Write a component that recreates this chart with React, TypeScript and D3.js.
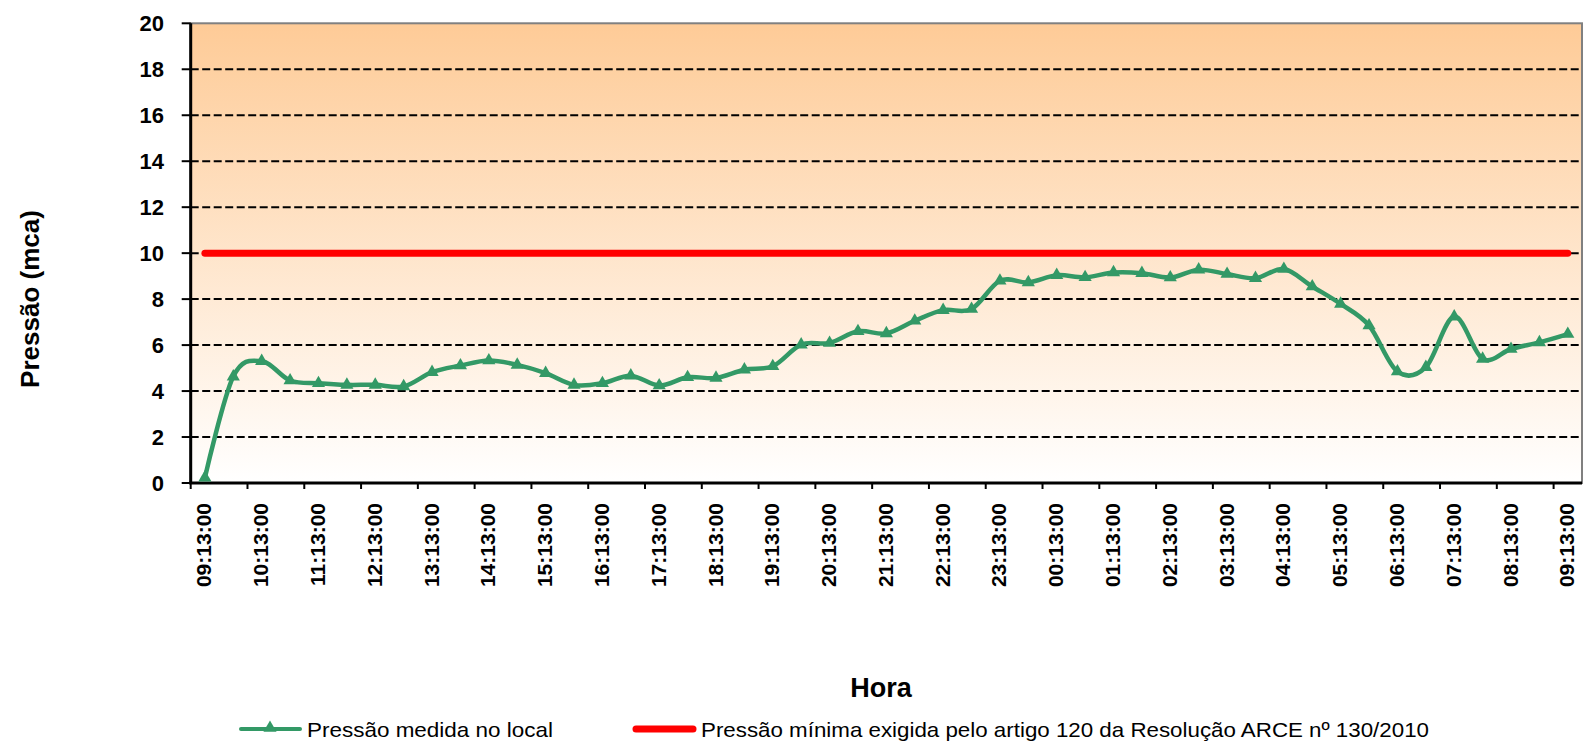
import { useEffect, useRef } from 'react';
import * as d3 from 'd3';

// Pressão medida a cada 30 min (mca), 09:13 até 09:13 do dia seguinte
const pressao = [
  0.23, 4.63, 5.3, 4.46, 4.34, 4.27, 4.27, 4.2, 4.82, 5.11,
  5.33, 5.14, 4.78, 4.27, 4.34, 4.67, 4.24, 4.6, 4.57, 4.93,
  5.08, 6.02, 6.09, 6.6, 6.51, 7.06, 7.52, 7.57, 8.8, 8.73,
  9.04, 8.95, 9.16, 9.13, 8.94, 9.28, 9.09, 8.91, 9.31, 8.55,
  7.79, 6.85, 4.85, 5.04, 7.24, 5.4, 5.83, 6.12, 6.48,
];

const pressaoMinima = 10;

const horas = [
  '09:13:00', '10:13:00', '11:13:00', '12:13:00', '13:13:00', '14:13:00',
  '15:13:00', '16:13:00', '17:13:00', '18:13:00', '19:13:00', '20:13:00',
  '21:13:00', '22:13:00', '23:13:00', '00:13:00', '01:13:00', '02:13:00',
  '03:13:00', '04:13:00', '05:13:00', '06:13:00', '07:13:00', '08:13:00',
  '09:13:00',
];

const yTicks = [0, 2, 4, 6, 8, 10, 12, 14, 16, 18, 20];

const FONT = '"Liberation Sans", Arial, sans-serif';
const GREEN = '#339966';

export default function App() {
  const svgRef = useRef<SVGSVGElement>(null);

  useEffect(() => {
    if (!svgRef.current) return;
    const svg = d3.select(svgRef.current);
    svg.selectAll('*').remove();

    const left = 190.7, right = 1582, top = 23.3, bottom = 483;

    const x = d3.scaleBand<number>()
      .domain(d3.range(pressao.length))
      .range([left, right]);
    const cx = (i: number) => (x(i) as number) + x.bandwidth() / 2;

    const y = d3.scaleLinear().domain([0, 20]).range([bottom, top]);

    const defs = svg.append('defs');
    const grad = defs.append('linearGradient')
      .attr('id', 'bg').attr('x1', 0).attr('y1', 0).attr('x2', 0).attr('y2', 1);
    grad.append('stop').attr('offset', '0%').attr('stop-color', '#FECB97');
    grad.append('stop').attr('offset', '100%').attr('stop-color', '#FFFFFF');

    svg.append('rect')
      .attr('x', left).attr('y', top)
      .attr('width', right - left).attr('height', bottom - top)
      .attr('fill', 'url(#bg)')
      .attr('stroke', '#808080').attr('stroke-width', 2);

    // grid
    svg.append('g')
      .selectAll('line')
      .data(yTicks.filter(t => t > 0 && t < 20))
      .enter().append('line')
      .attr('x1', left).attr('x2', right)
      .attr('y1', d => y(d)).attr('y2', d => y(d))
      .attr('stroke', '#000').attr('stroke-width', 2)
      .attr('stroke-dasharray', '8,3.5');

    // y axis
    const gy = svg.append('g');
    gy.append('line')
      .attr('x1', left).attr('x2', left).attr('y1', top).attr('y2', bottom)
      .attr('stroke', '#000').attr('stroke-width', 3);
    gy.selectAll('.tick')
      .data(yTicks)
      .enter().append('line')
      .attr('x1', left - 9).attr('x2', left)
      .attr('y1', d => y(d)).attr('y2', d => y(d))
      .attr('stroke', '#000').attr('stroke-width', 2);
    gy.selectAll('text')
      .data(yTicks)
      .enter().append('text')
      .attr('x', 164).attr('y', d => y(d))
      .attr('dy', '0.36em')
      .attr('text-anchor', 'end')
      .attr('font-family', FONT).attr('font-weight', 'bold').attr('font-size', 22)
      .text(d => d);

    // x axis
    const gx = svg.append('g');
    gx.append('line')
      .attr('x1', left - 1.5).attr('x2', right).attr('y1', bottom).attr('y2', bottom)
      .attr('stroke', '#000').attr('stroke-width', 3);
    const tickIdx = d3.range(0, pressao.length, 2);
    gx.selectAll('.tick')
      .data(tickIdx)
      .enter().append('line')
      .attr('x1', d => x(d) as number).attr('x2', d => x(d) as number)
      .attr('y1', bottom).attr('y2', bottom + 6)
      .attr('stroke', '#000').attr('stroke-width', 2);
    gx.selectAll('text')
      .data(horas)
      .enter().append('text')
      .attr('transform', (_, i) => `translate(${cx(i * 2) - 1},503) rotate(-90)`)
      .attr('dy', '0.36em')
      .attr('text-anchor', 'end')
      .attr('font-family', FONT).attr('font-weight', 'bold').attr('font-size', 21)
      .text(d => d);

    // red minimum line
    svg.append('line')
      .attr('x1', cx(0)).attr('x2', cx(pressao.length - 1))
      .attr('y1', y(pressaoMinima)).attr('y2', y(pressaoMinima))
      .attr('stroke', '#FF0000').attr('stroke-width', 7)
      .attr('stroke-linecap', 'round');

    // measured pressure
    const line = d3.line<number>()
      .x((_, i) => cx(i))
      .y(d => y(d))
      .curve(d3.curveCardinal.tension(0));
    svg.append('path')
      .datum(pressao)
      .attr('d', line)
      .attr('fill', 'none')
      .attr('stroke', GREEN).attr('stroke-width', 4.5)
      .attr('stroke-linejoin', 'round');

    const tri = d3.symbol().type(d3.symbolTriangle).size(75);
    svg.append('g')
      .selectAll('path')
      .data(pressao)
      .enter().append('path')
      .attr('transform', (d, i) => `translate(${cx(i)},${y(d)})`)
      .attr('d', tri)
      .attr('fill', GREEN);

    // axis titles
    svg.append('text')
      .attr('transform', 'translate(30,299) rotate(-90)')
      .attr('dy', '0.36em')
      .attr('text-anchor', 'middle')
      .attr('font-family', FONT).attr('font-weight', 'bold').attr('font-size', 26)
      .text('Pressão (mca)');
    svg.append('text')
      .attr('x', 881).attr('y', 697)
      .attr('text-anchor', 'middle')
      .attr('font-family', FONT).attr('font-weight', 'bold').attr('font-size', 27)
      .text('Hora');

    // legend
    const lg = svg.append('g').attr('font-family', FONT).attr('font-size', 21);
    lg.append('line')
      .attr('x1', 241).attr('x2', 300).attr('y1', 729).attr('y2', 729)
      .attr('stroke', GREEN).attr('stroke-width', 4).attr('stroke-linecap', 'round');
    lg.append('path')
      .attr('transform', 'translate(270,728)')
      .attr('d', tri)
      .attr('fill', GREEN);
    lg.append('text')
      .attr('x', 307).attr('y', 737)
      .attr('textLength', 246).attr('lengthAdjust', 'spacingAndGlyphs')
      .text('Pressão medida no local');
    lg.append('line')
      .attr('x1', 636).attr('x2', 693).attr('y1', 729).attr('y2', 729)
      .attr('stroke', '#FF0000').attr('stroke-width', 7).attr('stroke-linecap', 'round');
    lg.append('text')
      .attr('x', 701).attr('y', 737)
      .attr('textLength', 728).attr('lengthAdjust', 'spacingAndGlyphs')
      .text('Pressão mínima exigida pelo artigo 120 da Resolução ARCE nº 130/2010');
  }, []);

  return (
    <svg
      ref={svgRef}
      width={1584}
      height={742}
      viewBox="0 0 1584 742"
      style={{ position: 'absolute', left: 0, top: 0, background: '#fff' }}
    />
  );
}
